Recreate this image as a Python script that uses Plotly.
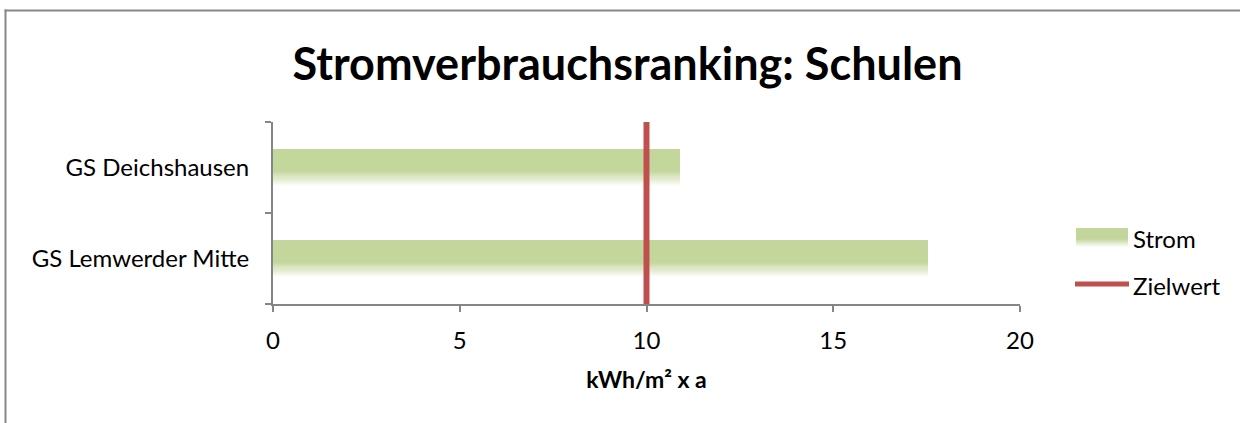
import plotly.graph_objects as go

# ---- data ----
categories = ["GS Lemwerder Mitte", "GS Deichshausen"]
strom_values = [17.55, 10.9]
zielwert = 10
x_ticks = [0, 5, 10, 15, 20]
x_title = "kWh/m² x a"
chart_title = "Stromverbrauchsranking: Schulen"

# ---- style ----
GREEN = (195, 214, 155)
RED = "#C0504D"
AXIS = "#868686"
FONT = "Lato"

EXTRA = 20  # canvas extends past the right/bottom of the window, like the original cut-off chart
W, H = 1240 + EXTRA, 423 + EXTRA
L, R, T, B = 273, 220 + EXTRA, 122, 119 + EXTRA
PW, PH = W - L - R, H - T - B

def px2x(px):
    return (px - L) / PW

def py2y(py):
    return (T + PH - py) / PH

def mix(t):
    # t=0 -> white, t=1 -> green
    r, g, b = (round(255 + (c - 255) * t) for c in GREEN)
    return f"rgb({r},{g},{b})"

fig = go.Figure()

bar_w = 0.4
solid_frac = 0.58
n_fade = 14
solid_h = bar_w * solid_frac
fig.add_trace(go.Bar(
    y=categories, x=strom_values, orientation="h",
    width=solid_h, offset=bar_w / 2 - solid_h,
    marker=dict(color=mix(1), line=dict(width=0)),
    name="Strom", showlegend=False, hoverinfo="x+y",
))
fade_h = bar_w - solid_h
step = fade_h / n_fade
for i in range(n_fade):
    t = (i + 0.5) / n_fade  # 0 at bottom -> 1 at top
    fig.add_trace(go.Bar(
        y=categories, x=strom_values, orientation="h",
        width=step * 1.02, offset=-bar_w / 2 + i * step,
        marker=dict(color=mix(t), line=dict(width=0)),
        showlegend=False, hoverinfo="skip",
    ))

# target line on a hidden secondary y-axis
fig.add_trace(go.Scatter(
    x=[zielwert, zielwert], y=[-0.015, 1], yaxis="y2", mode="lines",
    line=dict(color=RED, width=6), name="Zielwert", showlegend=False,
    cliponaxis=False,
))

fig.update_layout(
    width=W, height=H,
    margin=dict(l=L, r=R, t=T, b=B, autoexpand=False),
    paper_bgcolor="white", plot_bgcolor="white",
    barmode="overlay", bargap=0,
    font=dict(family=FONT, color="black", size=24),
    title=dict(text=f"<b>{chart_title}</b>", font=dict(family=FONT, size=45, color="black"),
               xref="container", x=627.5 / W, xanchor="center",
               yref="container", y=1 - 64 / H, yanchor="middle"),
    xaxis=dict(range=[0, 20], tickvals=x_ticks, showgrid=False, zeroline=False,
               showline=True, linecolor=AXIS, linewidth=2,
               ticks="outside", ticklen=6, tickcolor=AXIS, tickwidth=2,
               ticklabelstandoff=8, tickfont=dict(size=24),
               title=dict(text=f"<b>{x_title}</b>", font=dict(size=23), standoff=19)),
    yaxis=dict(type="category", categoryorder="array", categoryarray=categories,
               range=[-0.5, 1.5], showgrid=False, zeroline=False,
               showline=True, linecolor=AXIS, linewidth=2,
               ticks="outside", ticklen=6, tickcolor=AXIS, tickwidth=2,
               tickson="boundaries", ticklabelstandoff=17, tickfont=dict(size=24)),
    yaxis2=dict(overlaying="y", range=[0, 1], visible=False, fixedrange=True),
)

# chart outer border: only top and left edges are inside the picture
fig.add_shape(type="line", xref="paper", yref="paper",
              x0=px2x(4.5), x1=px2x(W), y0=py2y(10.5), y1=py2y(10.5),
              line=dict(color="#888888", width=2), layer="below")
fig.add_shape(type="line", xref="paper", yref="paper",
              x0=px2x(5.5), x1=px2x(5.5), y0=py2y(9.5), y1=py2y(H),
              line=dict(color="#888888", width=2), layer="below")

# manual legend
lx0, lx1 = 1076, 1128
ly0, ly1 = 228, 247
lsolid = ly0 + (ly1 - ly0) * solid_frac
fig.add_shape(type="rect", xref="paper", yref="paper",
              x0=px2x(lx0), x1=px2x(lx1), y0=py2y(lsolid), y1=py2y(ly0),
              fillcolor=mix(1), line=dict(width=0))
nl = 8
for i in range(nl):
    a = lsolid + (ly1 - lsolid) * i / nl
    b = lsolid + (ly1 - lsolid) * (i + 1) / nl + 0.3
    t = 1 - (i + 0.5) / nl
    fig.add_shape(type="rect", xref="paper", yref="paper",
                  x0=px2x(lx0), x1=px2x(lx1), y0=py2y(b), y1=py2y(a),
                  fillcolor=mix(t), line=dict(width=0))
fig.add_shape(type="line", xref="paper", yref="paper",
              x0=px2x(1075), x1=px2x(1129), y0=py2y(284), y1=py2y(284),
              line=dict(color=RED, width=5))
fig.add_annotation(text="Strom", xref="paper", yref="paper", x=px2x(1131), y=py2y(238),
                   xanchor="left", yanchor="middle", showarrow=False, font=dict(size=24))
fig.add_annotation(text="Zielwert", xref="paper", yref="paper", x=px2x(1131), y=py2y(285),
                   xanchor="left", yanchor="middle", showarrow=False, font=dict(size=24))

fig.write_html(
    "out.html",
    config={"displayModeBar": False},
    post_script="document.body.style.margin='0';document.body.style.overflow='hidden';",
)
